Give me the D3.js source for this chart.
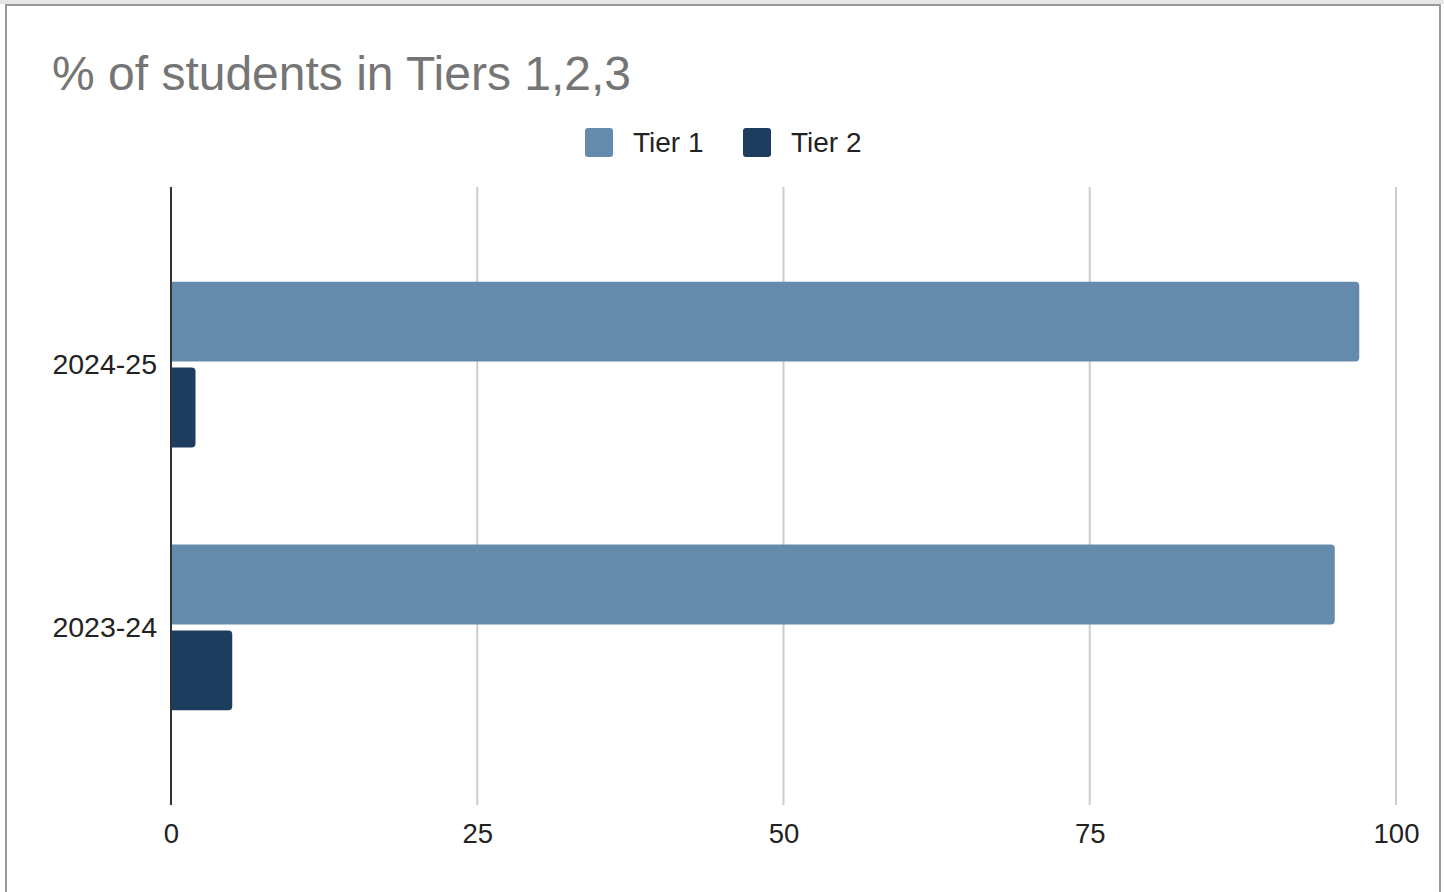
<!DOCTYPE html>
<html>
<head>
<meta charset="utf-8">
<script src="https://cdn.jsdelivr.net/npm/d3@7"></script>
<style>
  body { margin: 0; background: #fff; }
  text { font-family: "Liberation Sans", Arial, sans-serif; }
</style>
</head>
<body>
<div id="chart"></div>
<script>
// data
var years = ["2024-25", "2023-24"];
var tiers = ["Tier 1", "Tier 2"];
var tier1 = [97, 95];
var tier2 = [2, 5];
var xTicks = [0, 25, 50, 75, 100];
var colors = ["#648bac", "#1c3d5e"];

var svgWidth = 1444;
var svgHeight = 892;

var svg = d3.select("#chart")
  .append("svg")
  .attr("width", svgWidth)
  .attr("height", svgHeight);

// frame around the chart
svg.append("rect").attr("x", 0).attr("y", 0).attr("width", svgWidth).attr("height", 4).attr("fill", "#e6e6e6");
svg.append("path")
  .attr("d", "M6,892 V5 H1440 V892")
  .attr("fill", "none")
  .attr("stroke", "#9a9a9a")
  .attr("stroke-width", 2);

// title
svg.append("text")
  .attr("x", 52)
  .attr("y", 90)
  .attr("font-size", 48)
  .attr("fill", "#757575")
  .text("% of students in Tiers 1,2,3");

// legend
var legendX = [585, 743];
tiers.forEach(function (t, i) {
  svg.append("rect")
    .attr("x", legendX[i]).attr("y", 128)
    .attr("width", 28).attr("height", 29)
    .attr("rx", 3)
    .attr("fill", colors[i]);
  svg.append("text")
    .attr("x", legendX[i] + 48).attr("y", 152)
    .attr("font-size", 28)
    .attr("fill", "#222")
    .text(t);
});

// scales
var plotTop = 187, plotBottom = 805;
var x = d3.scaleLinear().domain([0, 100]).range([171, 1396]);
var y0 = d3.scaleBand().domain(years).range([plotTop, plotBottom]).paddingInner(0.369).paddingOuter(0.36);
var y1 = d3.scaleBand().domain(tiers).range([0, y0.bandwidth()]).paddingInner(0.07);

// gridlines
svg.append("g")
  .selectAll("line")
  .data(xTicks.filter(d => d > 0))
  .join("line")
  .attr("x1", d => x(d)).attr("x2", d => x(d))
  .attr("y1", plotTop).attr("y2", plotBottom)
  .attr("stroke", "#cccccc")
  .attr("stroke-width", 2);

// bars
svg.append("clipPath").attr("id", "plotclip")
  .append("rect").attr("x", x(0)).attr("y", plotTop).attr("width", 1300).attr("height", plotBottom - plotTop);

var rows = [];
years.forEach(function (yr, i) {
  rows.push({ year: yr, tier: tiers[0], value: tier1[i], color: colors[0] });
  rows.push({ year: yr, tier: tiers[1], value: tier2[i], color: colors[1] });
});

svg.append("g")
  .attr("clip-path", "url(#plotclip)")
  .selectAll("rect")
  .data(rows)
  .join("rect")
  .attr("x", x(0) - 6)
  .attr("y", d => y0(d.year) + y1(d.tier))
  .attr("width", d => x(d.value) - x(0) + 6)
  .attr("height", y1.bandwidth())
  .attr("rx", 4)
  .attr("fill", d => d.color);

// zero axis line
svg.append("line")
  .attr("x1", x(0)).attr("x2", x(0))
  .attr("y1", plotTop).attr("y2", plotBottom)
  .attr("stroke", "#333")
  .attr("stroke-width", 2);

// x tick labels
var xAxis = svg.append("g")
  .attr("transform", `translate(0, ${plotBottom})`)
  .call(d3.axisBottom(x).tickValues(xTicks).tickSize(0).tickPadding(18));
xAxis.select(".domain").remove();
xAxis.selectAll("text")
  .attr("font-size", 27.5)
  .attr("fill", "#222")
  .attr("font-family", "Liberation Sans, Arial, sans-serif");

// y labels
var yAxis = svg.append("g")
  .attr("transform", `translate(${x(0)}, 0)`)
  .call(d3.axisLeft(y0).tickSize(0).tickPadding(14));
yAxis.select(".domain").remove();
yAxis.selectAll("text")
  .attr("font-size", 28.5)
  .attr("fill", "#222")
  .attr("font-family", "Liberation Sans, Arial, sans-serif");
</script>
</body>
</html>
